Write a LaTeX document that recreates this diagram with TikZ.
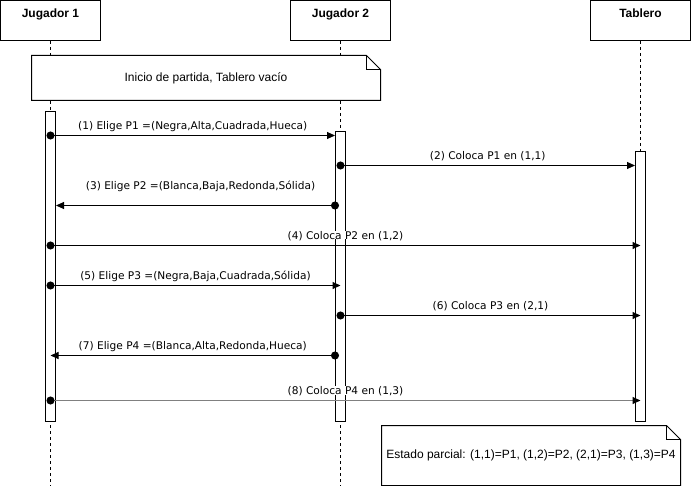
\documentclass[tikz,border=0pt]{standalone}
\usepackage{fontspec}
\setmainfont{Liberation Sans}
\newfontfamily\msgfont{DejaVu Sans}
\usetikzlibrary{positioning, arrows.meta, calc}

\tikzset{
  actor/.style={draw, line width=1pt, fill=white, minimum width=100pt, minimum height=40pt,
    inner sep=0pt, text height=9pt, text depth=15pt, font=\bfseries\fontsize{12}{14}\selectfont},
  lifeline/.style={line width=1pt, dash pattern=on 3pt off 3pt},
  activation/.style={draw, line width=1pt, fill=white, minimum width=10pt, inner sep=0pt, anchor=north},
  notebox/.style={draw, line width=1pt, fill=white},
  notetext/.style={font=\fontsize{12}{14}\selectfont, inner sep=0pt},
  msg/.style={line width=1pt, {Circle[length=8pt]}-{Triangle[length=8pt,width=7pt]}, shorten <=-4pt},
  lbl/.style={font=\msgfont\fontsize{10.6}{12}\selectfont, fill=white, inner xsep=1pt, inner ysep=0pt,
    text depth=0pt, midway, above=5.5pt},
}

\begin{document}
\begin{tikzpicture}[x=1pt, y=-1pt]
\useasboundingbox (0,0) rectangle (691,486);
\coordinate (bottom) at (0,486);

% participants
\node[actor] (j1) at (50.5,20.5) {Jugador 1};
\node[actor] (j2) at (340.5,20.5) {Jugador 2};
\node[actor] (tab) at (640.5,20.5) {Tablero};
\draw[lifeline] (j1.south) -- (j1 |- bottom);
\draw[lifeline] (j2.south) -- (j2 |- bottom);
\draw[lifeline] (tab.south) -- (tab |- bottom);

% notes
\draw[notebox] (31.5,55.5) -- (366.5,55.5) -- (380.5,69.5) -- (380.5,100.5) -- (31.5,100.5) -- cycle;
\draw[line width=1pt] (366.5,55.5) |- (380.5,69.5);
\node[notetext] (n1) at (206,78) {Inicio de partida, Tablero vacío};
\draw[notebox] (381.5,425.5) -- (666.5,425.5) -- (680.5,439.5) -- (680.5,485.5) -- (381.5,485.5) -- cycle;
\draw[line width=1pt] (666.5,425.5) |- (680.5,439.5);
\node[notetext] (n2) at (531,455.5) {Estado parcial: (1,1)=P1, (1,2)=P2, (2,1)=P3, (1,3)=P4};

% activations
\node[activation, minimum height=310pt, below=70pt of j1] (act1) {};
\node[activation, minimum height=290pt, below=90pt of j2] (act2) {};
\node[activation, minimum height=270pt, below=110pt of tab] (act3) {};

% messages
\coordinate (t1) at (0,135.5);
\coordinate (t2) at (0,165.5);
\coordinate (t3) at (0,205.5);
\coordinate (t4) at (0,245.5);
\coordinate (t5) at (0,285.5);
\coordinate (t6) at (0,315.5);
\coordinate (t7) at (0,355.5);
\coordinate (t8) at (0,400.5);
\draw[msg] (act1 |- t1) -- node[lbl] {(1) Elige P1 =(Negra,Alta,Cuadrada,Hueca)} (act2.west |- t1);
\draw[msg] (act2 |- t2) -- node[lbl] {(2) Coloca P1 en (1,1)} (act3.west |- t2);
\draw[msg] (act2.west |- t3) -- node[lbl, above=15.5pt, xshift=5pt] {(3) Elige P2 =(Blanca,Baja,Redonda,Sólida)} (act1.east |- t3);
\draw[msg] (act1 |- t4) -- node[lbl] {(4) Coloca P2 en (1,2)} (act3 |- t4);
\draw[msg] (act1 |- t5) -- node[lbl] {(5) Elige P3 =(Negra,Baja,Cuadrada,Sólida)} (act2 |- t5);
\draw[msg] (act2 |- t6) -- node[lbl] {(6) Coloca P3 en (2,1)} (act3 |- t6);
\draw[msg] (act2.west |- t7) -- node[lbl] {(7) Elige P4 =(Blanca,Alta,Redonda,Hueca)} (act1 |- t7);
\draw[msg, draw=gray, {Circle[length=8pt,color=black]}-{Triangle[length=8pt,width=7pt,color=black]}]
  (act1 |- t8) -- node[lbl] {(8) Coloca P4 en (1,3)} (act3 |- t8);
\end{tikzpicture}
\end{document}
